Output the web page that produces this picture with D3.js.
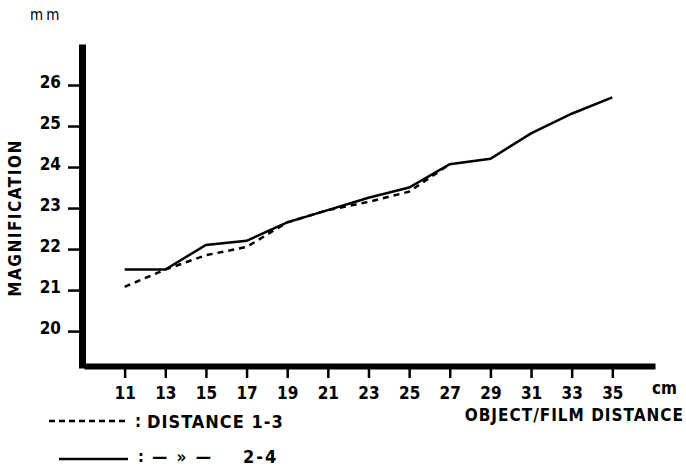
<!DOCTYPE html>
<html>
<head>
<meta charset="utf-8">
<script src="https://cdn.jsdelivr.net/npm/d3@7"></script>
<style>
  body { margin: 0; background: #fff; }
  svg { display: block; }
  text { font-family: "DejaVu Sans Condensed", "DejaVu Sans", sans-serif; fill: #000; }
</style>
</head>
<body>
<svg id="chart" width="686" height="468"></svg>
<script>
// object/film distance in cm
let distances = [11, 13, 15, 17, 19, 21, 23, 25, 27, 29, 31, 33, 35];
// magnification (mm) for distance 2-4 (solid line)
let magnification24 = [21.5, 21.5, 22.1, 22.2, 22.65, 22.95, 23.25, 23.5, 24.07, 24.2, 24.82, 25.3, 25.7];
// distance 1-3 (dashed) only measured up to 27 cm
let distances13 = [11, 13, 15, 17, 19, 21, 23, 25, 27];
let magnification13 = [21.08, 21.5, 21.85, 22.05, 22.65, 22.95, 23.15, 23.4, 24.07];

let xTicks = [11, 13, 15, 17, 19, 21, 23, 25, 27, 29, 31, 33, 35];
let yTicks = [20, 21, 22, 23, 24, 25, 26];

let svg = d3.select("#chart");

let axisX = 82;
let axisY = 366;

let xScale = d3.scaleLinear().domain([9, 37.1]).range([84, 655]);
let yScale = d3.scaleLinear().domain([19.1, 27]).range([368, 44]);

// y axis
let gy = svg.append("g")
    .attr("transform", "translate(" + axisX + ",0)")
    .call(d3.axisLeft(yScale).tickValues(yTicks).tickSize(14).tickPadding(7).tickSizeOuter(0));
gy.select(".domain").attr("stroke-width", 7);
gy.selectAll(".tick line").attr("stroke-width", 2.5);
gy.selectAll(".tick text")
    .attr("font-family", "DejaVu Sans Condensed, DejaVu Sans, sans-serif")
    .attr("font-size", 17)
    .attr("font-weight", "bold")
    .attr("dy", "0.12em");

// x axis
let gx = svg.append("g")
    .attr("transform", "translate(0," + axisY + ")")
    .call(d3.axisBottom(xScale).tickValues(xTicks).tickSize(12).tickPadding(9).tickSizeOuter(0));
gx.select(".domain").attr("stroke-width", 6);
gx.selectAll(".tick line").attr("stroke-width", 2.5);
gx.selectAll(".tick text")
    .attr("font-family", "DejaVu Sans Condensed, DejaVu Sans, sans-serif")
    .attr("font-size", 17)
    .attr("font-weight", "bold");

// lines
let line = d3.line()
    .x(d => xScale(d[0]))
    .y(d => yScale(d[1]));

svg.append("path")
    .datum(d3.zip(distances13, magnification13))
    .attr("d", line)
    .attr("fill", "none")
    .attr("stroke", "#000")
    .attr("stroke-width", 2.5)
    .attr("stroke-dasharray", "6,5");

svg.append("path")
    .datum(d3.zip(distances, magnification24))
    .attr("d", line)
    .attr("fill", "none")
    .attr("stroke", "#000")
    .attr("stroke-width", 2.5);

// labels
svg.append("text")
    .attr("x", 30).attr("y", 20)
    .attr("font-size", 15)
    .attr("letter-spacing", 3)
    .text("mm");

svg.append("text")
    .attr("transform", "translate(21,218) rotate(-90)")
    .attr("text-anchor", "middle")
    .attr("font-size", 17)
    .attr("font-weight", "bold")
    .attr("letter-spacing", 1.5)
    .text("MAGNIFICATION");

svg.append("text")
    .attr("x", 652).attr("y", 394)
    .attr("font-size", 17)
    .attr("font-weight", "bold")
    .text("cm");

svg.append("text")
    .attr("x", 684).attr("y", 421)
    .attr("text-anchor", "end")
    .attr("font-size", 17)
    .attr("font-weight", "bold")
    .attr("letter-spacing", 1)
    .text("OBJECT/FILM DISTANCE");

// legend
let legend = svg.append("g");
legend.append("line")
    .attr("x1", 49).attr("x2", 128).attr("y1", 421).attr("y2", 421)
    .attr("stroke", "#000").attr("stroke-width", 2.5).attr("stroke-dasharray", "6,4");
legend.append("text")
    .attr("x", 135).attr("y", 427)
    .attr("font-size", 17).attr("font-weight", "bold")
    .text(":");
legend.append("text")
    .attr("x", 147).attr("y", 428)
    .attr("font-size", 18).attr("font-weight", "bold")
    .attr("letter-spacing", 1)
    .text("DISTANCE  1-3");

legend.append("line")
    .attr("x1", 59).attr("x2", 128).attr("y1", 459).attr("y2", 459)
    .attr("stroke", "#000").attr("stroke-width", 2.5);
legend.append("text")
    .attr("x", 138).attr("y", 462)
    .attr("font-size", 16).attr("font-weight", "bold")
    .text(":");
legend.append("text")
    .attr("x", 152).attr("y", 463)
    .attr("font-size", 17).attr("font-weight", "bold")
    .attr("letter-spacing", 2)
    .text("— » —");
legend.append("text")
    .attr("x", 243).attr("y", 463)
    .attr("font-size", 18).attr("font-weight", "bold")
    .attr("letter-spacing", 2)
    .text("2-4");
</script>
</body>
</html>
